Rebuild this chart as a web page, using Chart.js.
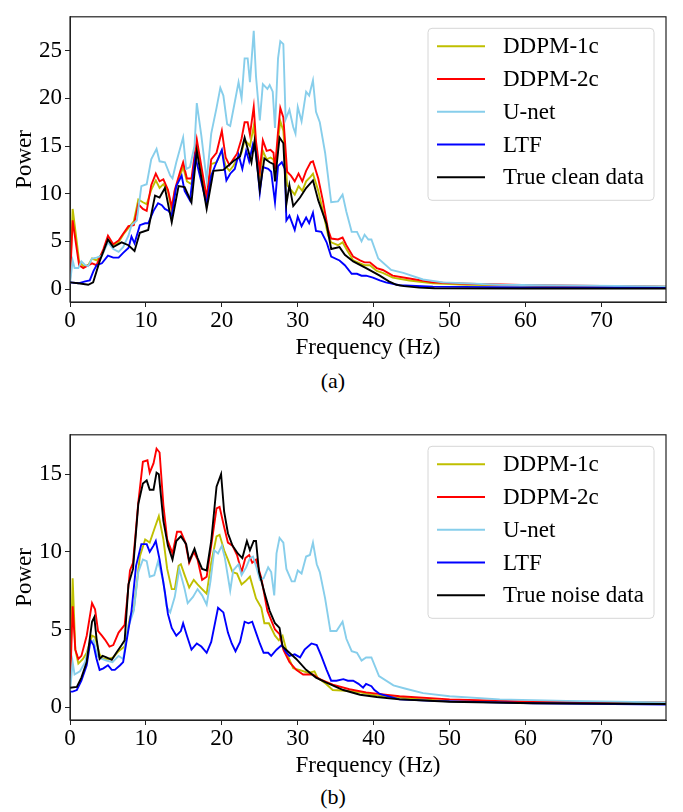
<!DOCTYPE html>
<html>
<head>
<meta charset="utf-8">
<script src="https://cdn.jsdelivr.net/npm/chart.js@4.4.1/dist/chart.umd.min.js"></script>
<style>
  body { margin: 0; background: #fff; width: 683px; height: 812px; position: relative; overflow: hidden; font-family: "Liberation Serif", serif; }
  .panel { position: absolute; left: 0; width: 683px; height: 364px; }
  .caption { position: absolute; left: 0; width: 666px; text-align: center; font-size: 22px; line-height: 22px; color: #000; }
</style>
</head>
<body>
<canvas id="chartA" class="panel" width="683" height="364" style="top:0"></canvas>
<div class="caption" style="top:370px">(a)</div>
<canvas id="chartB" class="panel" width="683" height="364" style="top:418px"></canvas>
<div class="caption" style="top:786px">(b)</div>

<script>
// ---- data: [frequency Hz, power] ----
const seriesNames = ['DDPM-1c', 'DDPM-2c', 'U-net', 'LTF'];
const seriesColors = ['#bfbf00', '#ff0000', '#87ceeb', '#0000ff', '#000000'];
const freqTicks = [0, 10, 20, 30, 40, 50, 60, 70];
const powerTicksA = [0, 5, 10, 15, 20, 25];
const powerTicksB = [0, 5, 10, 15];

// (a) clean data
const ddpm1cA = [[0,1.0],[0.35,8.4],[0.9,4.9],[1.2,2.9],[1.75,2.4],[2.4,2.5],[2.9,3.2],[3.5,3.0],[4.4,3.9],[5.0,5.2],[5.7,4.6],[6.4,4.9],[7.0,5.7],[7.7,6.4],[8.4,7.1],[9.0,9.4],[9.6,9.1],[10.1,8.9],[10.7,10.4],[11.3,11.4],[11.8,10.6],[12.3,11.0],[12.9,10.3],[13.4,8.1],[13.8,10.3],[14.5,11.9],[14.9,12.8],[15.4,11.3],[16.0,11.0],[16.7,15.1],[17.3,12.3],[18.0,9.3],[18.6,13.1],[19.3,13.3],[20.0,14.5],[20.5,12.9],[21.0,12.4],[21.5,12.9],[22.0,13.6],[22.6,14.3],[23.0,15.6],[23.4,15.3],[23.7,15.0],[24.2,17.1],[24.5,14.6],[25.0,11.6],[25.4,14.5],[25.9,13.6],[26.4,13.8],[26.8,13.6],[27.0,12.1],[27.4,15.6],[27.7,17.6],[28.1,16.6],[28.6,10.9],[29.1,10.4],[29.6,9.9],[30.1,10.8],[30.6,10.3],[31.1,11.3],[31.7,11.8],[32.0,12.1],[32.7,10.3],[33.3,8.2],[34.0,5.6],[34.4,4.9],[35.3,4.6],[35.9,4.9],[36.4,4.2],[37.3,3.0],[38.2,2.7],[38.8,2.5],[39.5,2.5],[40.4,1.9],[41.2,1.7],[42.5,1.2],[44.7,0.9],[47.8,0.6],[52.2,0.45],[61,0.35],[70,0.3],[78.5,0.25]];
const ddpm2cA = [[0,0.8],[0.35,7.2],[0.9,4.1],[1.2,2.5],[1.75,2.2],[2.2,2.4],[2.9,2.7],[3.5,2.5],[4.4,4.2],[5.0,5.6],[5.7,4.7],[6.4,5.1],[7.0,5.8],[7.7,6.6],[8.4,6.7],[9.0,8.9],[9.6,8.4],[10.1,8.2],[10.7,10.9],[11.3,12.1],[11.8,11.3],[12.3,11.5],[12.9,10.4],[13.4,8.6],[13.8,10.4],[14.5,12.3],[14.9,13.3],[15.4,11.6],[16.0,11.6],[16.7,15.7],[17.3,12.9],[18.0,9.6],[18.6,13.6],[19.3,14.3],[20.0,16.6],[20.5,13.8],[21.0,13.0],[21.5,13.6],[22.0,14.2],[22.6,15.8],[23.0,17.5],[23.4,17.5],[23.7,16.2],[24.2,19.1],[24.5,15.5],[25.0,12.4],[25.4,15.6],[25.9,14.5],[26.4,14.6],[26.8,14.3],[27.0,12.6],[27.4,16.5],[27.7,19.0],[28.1,18.0],[28.6,12.3],[29.1,11.9],[29.6,11.3],[30.1,12.1],[30.6,11.3],[31.1,12.4],[31.7,13.3],[32.0,13.4],[32.7,11.6],[33.3,9.3],[34.0,6.2],[34.4,5.3],[35.3,5.2],[35.9,5.4],[36.4,4.6],[37.3,3.4],[38.2,3.0],[38.8,2.8],[39.5,2.8],[40.4,2.2],[41.2,2.0],[42.5,1.4],[44.7,1.1],[47.8,0.7],[52.2,0.55],[61,0.4],[70,0.32],[78.5,0.25]];
const unetA = [[0,0.6],[0.35,3.0],[0.6,2.2],[1.1,2.2],[1.5,2.9],[2.0,2.5],[2.4,2.4],[2.9,3.2],[3.5,3.3],[4.2,3.5],[5.0,4.9],[5.7,4.2],[6.4,3.9],[7.0,4.4],[7.7,5.6],[8.1,6.7],[8.8,7.2],[9.4,10.8],[10.1,11.0],[10.7,13.6],[11.4,14.7],[11.8,13.4],[12.5,13.3],[13.2,11.9],[13.5,11.6],[14.0,13.3],[14.9,15.9],[15.3,12.6],[15.8,12.8],[16.4,15.0],[16.7,19.5],[17.3,16.1],[18.0,11.4],[18.6,16.3],[19.3,19.0],[19.8,21.1],[20.2,20.3],[20.7,17.3],[21.1,17.1],[21.7,19.6],[22.2,21.7],[22.6,20.0],[23.0,24.2],[23.4,24.2],[23.7,21.7],[24.2,27.1],[24.5,22.3],[25.0,17.7],[25.4,21.5],[26.0,21.0],[26.3,21.4],[26.7,20.7],[27.0,16.9],[27.4,24.2],[27.7,26.0],[28.1,25.7],[28.4,17.8],[28.9,18.8],[29.4,17.0],[29.7,16.3],[30.0,19.1],[30.5,17.6],[31.1,20.7],[31.5,20.3],[32.0,21.9],[32.4,18.6],[32.9,17.5],[33.6,14.3],[34.4,9.1],[35.3,9.2],[35.9,9.9],[36.4,8.1],[37.1,6.0],[37.8,6.0],[38.4,5.0],[38.8,5.7],[39.3,5.2],[39.7,5.2],[40.6,3.2],[42.3,2.0],[43.9,1.7],[46.5,1.0],[49.1,0.7],[56.6,0.45],[65.4,0.37],[78.5,0.27]];
const ltfA = [[0,0.7],[1.1,0.6],[2.0,0.8],[2.6,0.9],[3.1,1.9],[3.5,2.5],[4.2,2.7],[5.0,3.5],[5.7,3.3],[6.4,3.3],[7.0,3.8],[7.7,4.3],[8.1,5.5],[8.5,4.8],[9.2,6.7],[9.9,6.9],[10.3,6.9],[11.0,8.2],[11.6,9.0],[12.1,8.8],[12.5,8.4],[13.0,8.2],[13.4,7.7],[14.0,10.8],[14.7,11.9],[15.1,10.3],[15.8,9.3],[16.5,13.9],[17.1,11.9],[18.0,8.9],[18.6,11.9],[19.3,13.3],[20.0,14.6],[20.6,11.4],[21.1,12.1],[21.7,12.6],[22.2,14.1],[22.7,12.6],[23.2,14.5],[23.6,13.4],[24.1,15.2],[24.5,14.3],[25.0,10.1],[25.4,12.8],[26.1,12.6],[26.5,12.3],[27.0,9.1],[27.4,12.9],[27.9,13.3],[28.3,12.6],[28.5,7.2],[28.9,7.7],[29.6,6.2],[30.0,7.6],[30.5,6.6],[31.1,7.5],[31.5,6.9],[32.0,8.0],[32.4,6.1],[33.1,6.0],[33.8,4.9],[34.4,3.4],[35.5,3.0],[36.2,2.5],[37.1,1.6],[37.8,1.6],[38.4,1.4],[39.0,1.4],[39.9,1.2],[40.8,0.9],[41.6,0.7],[43.4,0.4],[47.8,0.25],[60,0.17],[78.5,0.12]];
const trueCleanA = [[0,0.7],[1.1,0.6],[2.4,0.45],[3.05,0.7],[3.9,2.9],[5.0,5.2],[5.7,4.4],[6.8,4.9],[7.7,4.6],[8.5,4.0],[9.2,5.9],[10.3,6.2],[11.2,9.8],[11.8,9.6],[12.5,10.6],[13.4,7.0],[14.3,10.8],[15.1,10.7],[16.0,9.1],[16.7,14.5],[18.0,8.4],[18.9,12.4],[20.2,12.5],[21.5,13.4],[22.4,13.9],[23.0,15.9],[23.9,13.3],[24.3,15.5],[25.0,10.4],[25.6,13.7],[26.3,13.3],[26.8,13.1],[27.0,11.3],[27.6,15.9],[28.1,15.3],[28.5,8.9],[28.9,10.9],[29.4,8.7],[30.3,9.6],[31.1,10.6],[32.0,11.4],[32.7,9.3],[33.8,6.8],[34.4,4.2],[35.5,4.4],[36.2,3.6],[37.3,2.9],[39.0,2.2],[40.8,1.4],[42.0,0.8],[43.0,0.45],[44.0,0.3],[46.0,0.15],[48.0,0.08],[60,0.05],[78.5,0.05]];

// (b) noise data
const ddpm1cB = [[0,1.5],[0.35,8.3],[0.7,3.7],[1.1,2.8],[1.7,3.1],[2.2,3.5],[2.9,4.6],[3.3,4.5],[3.9,3.4],[4.4,3.1],[5.0,3.1],[5.7,3.2],[6.4,3.6],[7.2,3.9],[7.9,5.8],[8.4,6.3],[9.2,9.7],[9.9,10.8],[10.5,10.6],[11.2,11.6],[11.7,12.3],[12.3,10.8],[12.8,8.9],[13.4,7.6],[13.8,7.6],[14.3,9.1],[14.6,9.2],[15.1,8.5],[15.7,7.7],[16.3,8.2],[16.8,7.9],[17.4,7.6],[18.0,7.3],[18.6,9.3],[19.3,11.0],[19.7,11.1],[20.3,10.1],[20.8,9.5],[21.4,8.7],[22.0,8.6],[22.6,7.9],[23.1,8.1],[23.7,8.4],[24.5,7.0],[25.2,6.4],[25.6,5.4],[26.2,5.4],[27.0,4.6],[27.5,4.3],[28.0,4.6],[28.7,3.3],[29.4,2.5],[30.2,2.4],[31.4,2.2],[32.2,2.3],[32.6,1.9],[33.7,1.5],[34.6,1.1],[36.4,1.05],[38.2,0.95],[40.4,0.75],[43.4,0.6],[50,0.38],[60,0.32],[78.5,0.28]];
const ddpm2cB = [[0,1.2],[0.35,6.5],[0.7,3.7],[1.1,3.1],[1.5,3.3],[2.2,4.6],[2.9,6.7],[3.3,6.3],[3.7,4.9],[4.2,4.6],[4.6,4.35],[5.2,3.9],[5.7,4.0],[6.4,4.8],[7.2,5.3],[7.9,8.8],[8.3,9.3],[9.0,13.2],[9.6,15.8],[10.2,15.9],[10.5,15.1],[11.0,15.7],[11.4,16.65],[11.8,16.4],[12.3,13.0],[12.8,10.8],[13.5,9.9],[14.1,11.3],[14.6,11.3],[15.2,10.6],[15.7,9.3],[16.3,10.0],[16.8,9.5],[17.4,8.2],[18.0,8.4],[18.6,10.4],[19.3,12.8],[19.7,12.9],[20.3,11.6],[20.8,10.6],[21.4,10.4],[22.0,9.8],[22.6,8.7],[23.1,9.6],[23.6,9.8],[24.0,9.3],[24.5,9.5],[25.2,8.3],[26.0,6.2],[27.0,5.0],[27.6,4.7],[28.1,3.7],[28.9,2.9],[29.8,2.4],[30.7,2.1],[32.0,2.1],[32.9,1.8],[34.6,1.45],[36.8,1.15],[39.0,0.95],[40.6,0.85],[43.4,0.7],[50,0.5],[61,0.35],[70,0.32],[78.5,0.3]];
const unetB = [[0,1.0],[0.35,2.9],[0.6,2.1],[1.3,2.3],[2.0,2.9],[2.6,4.1],[3.1,4.3],[3.6,3.3],[4.2,3.1],[4.8,3.0],[5.6,2.9],[6.4,3.3],[7.0,3.1],[7.7,5.2],[8.4,6.2],[9.0,8.7],[9.6,9.5],[10.1,9.4],[10.5,8.4],[11.1,8.5],[11.6,9.4],[12.3,8.1],[12.7,6.5],[13.2,6.1],[13.8,7.1],[14.4,8.9],[15.1,7.6],[15.5,6.7],[16.2,7.1],[16.8,7.6],[17.4,7.2],[18.0,6.6],[18.5,8.1],[19.0,10.1],[19.5,9.9],[20.0,10.4],[20.4,9.6],[21.1,7.5],[21.5,8.8],[22.2,9.2],[22.6,8.5],[23.2,9.0],[23.7,9.6],[24.1,9.7],[24.5,9.1],[25.0,8.2],[25.5,8.3],[26.1,9.0],[26.5,8.7],[26.9,7.2],[27.2,9.9],[27.6,10.9],[28.1,10.6],[28.5,8.9],[29.2,8.1],[29.6,8.1],[30.0,8.8],[30.5,8.6],[31.1,9.7],[31.6,9.8],[32.0,10.6],[32.5,9.2],[32.9,8.7],[33.6,7.0],[34.3,4.9],[35.1,4.9],[35.9,5.5],[36.4,4.4],[37.1,3.6],[37.8,3.5],[38.4,3.0],[39.0,3.2],[39.7,3.2],[40.7,2.0],[42.6,1.4],[44.1,1.2],[46.5,0.9],[50,0.7],[56.6,0.5],[65.4,0.4],[78.5,0.3]];
const ltfB = [[0,1.0],[0.35,1.0],[0.9,1.1],[1.5,1.7],[2.2,2.7],[2.7,4.3],[3.1,4.0],[3.5,3.1],[3.9,2.4],[4.4,2.5],[5.0,2.7],[5.5,2.4],[5.9,2.4],[6.6,2.7],[7.0,2.9],[7.4,4.1],[8.1,6.2],[8.7,9.1],[9.4,10.5],[10.1,10.5],[10.5,10.0],[11.0,10.4],[11.3,10.7],[11.8,9.5],[12.5,7.4],[12.9,6.0],[13.4,5.1],[14.0,4.6],[14.6,4.9],[14.9,5.4],[15.4,4.6],[16.0,3.7],[16.7,4.1],[17.3,3.9],[18.0,3.5],[18.6,4.2],[19.5,6.4],[20.2,6.1],[20.8,4.8],[21.3,4.1],[21.8,3.6],[22.4,4.2],[23.0,5.5],[23.5,5.4],[24.0,5.5],[24.5,4.8],[25.0,4.1],[25.5,3.5],[26.1,3.5],[26.5,3.3],[27.2,3.7],[27.9,4.0],[28.5,3.5],[28.9,3.3],[29.6,3.4],[30.3,3.2],[30.9,3.7],[31.8,4.1],[32.5,4.0],[33.1,3.3],[33.8,2.4],[34.4,1.7],[35.1,1.7],[36.0,1.8],[36.6,1.7],[37.3,1.7],[38.0,1.5],[38.6,1.25],[39.0,1.5],[39.7,1.35],[40.1,1.1],[40.8,0.85],[43.4,0.5],[47.8,0.4],[61,0.25],[78.5,0.17]];
const trueNoiseB = [[0,1.25],[0.9,1.3],[1.5,1.9],[2.2,2.9],[2.9,5.5],[3.2,5.8],[3.5,4.4],[3.9,3.1],[4.3,3.3],[4.8,3.2],[5.5,3.05],[6.1,3.5],[6.8,4.0],[7.2,4.3],[7.7,7.9],[8.3,8.9],[9.0,13.1],[9.6,14.4],[10.1,14.6],[10.5,14.0],[11.0,14.0],[11.4,15.1],[11.7,15.0],[12.3,12.0],[12.9,10.4],[13.5,9.5],[14.0,10.7],[14.6,11.0],[15.3,10.5],[15.7,9.4],[16.4,10.2],[16.8,9.6],[17.4,8.9],[18.0,8.8],[18.6,10.7],[19.3,14.2],[19.9,15.0],[20.3,12.6],[20.8,11.2],[21.4,10.4],[22.1,9.9],[22.7,9.6],[23.3,10.7],[23.7,10.1],[24.2,10.7],[24.5,10.7],[24.9,8.7],[25.6,7.4],[26.3,6.2],[27.0,5.4],[27.6,5.1],[28.0,3.9],[28.9,3.5],[29.8,3.1],[31.1,2.4],[32.4,1.9],[33.7,1.6],[36.0,1.1],[38.2,0.8],[40.4,0.65],[43.4,0.5],[50,0.35],[61,0.25],[78.5,0.2]];

const serif = '"Liberation Serif", "Times New Roman", serif';
const fontMain = { family: serif, size: 23 };

// black frame around the plotting area (matplotlib style)
const framePlugin = {
    id: 'frame',
    afterDatasetsDraw(chart) {
        const a = chart.chartArea, ctx = chart.ctx;
        ctx.save();
        ctx.strokeStyle = '#222';
        ctx.lineWidth = 1.2;
        ctx.strokeRect(a.left, a.top, a.right - a.left, a.bottom - a.top);
        ctx.restore();
    }
};

// legend box in upper right, drawn from the datasets
const boxLegend = {
    id: 'boxLegend',
    afterDraw(chart) {
        const a = chart.chartArea, ctx = chart.ctx;
        const x0 = a.right - 238, x1 = a.right - 12;
        const y0 = a.top + 11.5, y1 = a.top + 183.5;
        ctx.save();
        ctx.beginPath();
        ctx.roundRect(x0, y0, x1 - x0, y1 - y0, 4);
        ctx.fillStyle = 'rgba(255,255,255,0.8)';
        ctx.fill();
        ctx.strokeStyle = '#d6d6d6';
        ctx.lineWidth = 1;
        ctx.stroke();
        ctx.font = '23px ' + serif;
        ctx.textBaseline = 'middle';
        chart.data.datasets.forEach((ds, i) => {
            const y = a.top + 29.5 + i * 32.75;
            ctx.strokeStyle = ds.borderColor;
            ctx.lineWidth = 2;
            ctx.beginPath();
            ctx.moveTo(a.right - 229, y);
            ctx.lineTo(a.right - 181, y);
            ctx.stroke();
            ctx.fillStyle = '#000';
            ctx.fillText(ds.label, a.right - 163, y + 1);
        });
        ctx.restore();
    }
};

function makePanel(id, lists, trueLabel, yMin, yMax, yTicks) {
    const labels = seriesNames.concat([trueLabel]);
    const datasets = lists.map((pts, i) => ({
        label: labels[i],
        data: pts.map(p => ({ x: p[0], y: p[1] })),
        borderColor: seriesColors[i],
        borderWidth: 1.9,
        pointRadius: 0,
        tension: 0,
        fill: false,
        order: lists.length - 1 - i
    }));
    new Chart(document.getElementById(id), {
        type: 'line',
        data: { datasets },
        plugins: [framePlugin, boxLegend],
        options: {
            responsive: false,
            animation: false,
            devicePixelRatio: 1,
            layout: { padding: { top: 6, right: 17, left: 0, bottom: 0 } },
            plugins: { legend: { display: false }, tooltip: { enabled: false } },
            scales: {
                x: {
                    type: 'linear',
                    min: 0,
                    max: 78.5,
                    afterBuildTicks: s => { s.ticks = freqTicks.map(v => ({ value: v })); },
                    afterFit: s => { s.height = 62; },
                    ticks: { font: fontMain, color: '#000', padding: 0, maxRotation: 0, autoSkip: false },
                    grid: { drawOnChartArea: false, drawTicks: true, tickLength: 5, tickColor: '#222' },
                    border: { display: true, color: '#222' },
                    title: { display: true, text: 'Frequency (Hz)', font: fontMain, color: '#000', padding: { top: 4, bottom: 2 } }
                },
                y: {
                    type: 'linear',
                    min: yMin,
                    max: yMax,
                    afterBuildTicks: s => { s.ticks = yTicks.map(v => ({ value: v })); },
                    afterFit: s => { s.width = 70; },
                    ticks: { font: fontMain, color: '#000', padding: 3, autoSkip: false },
                    grid: { drawOnChartArea: false, drawTicks: true, tickLength: 5, tickColor: '#222' },
                    border: { display: true, color: '#222' },
                    title: { display: true, text: 'Power', font: fontMain, color: '#000', padding: { top: 11, bottom: 0 } }
                }
            }
        }
    });
}

makePanel('chartA', [ddpm1cA, ddpm2cA, unetA, ltfA, trueCleanA], 'True clean data', -1.36, 28.56, powerTicksA);
makePanel('chartB', [ddpm1cB, ddpm2cB, unetB, ltfB, trueNoiseB], 'True noise data', -0.83, 17.54, powerTicksB);
</script>
</body>
</html>
